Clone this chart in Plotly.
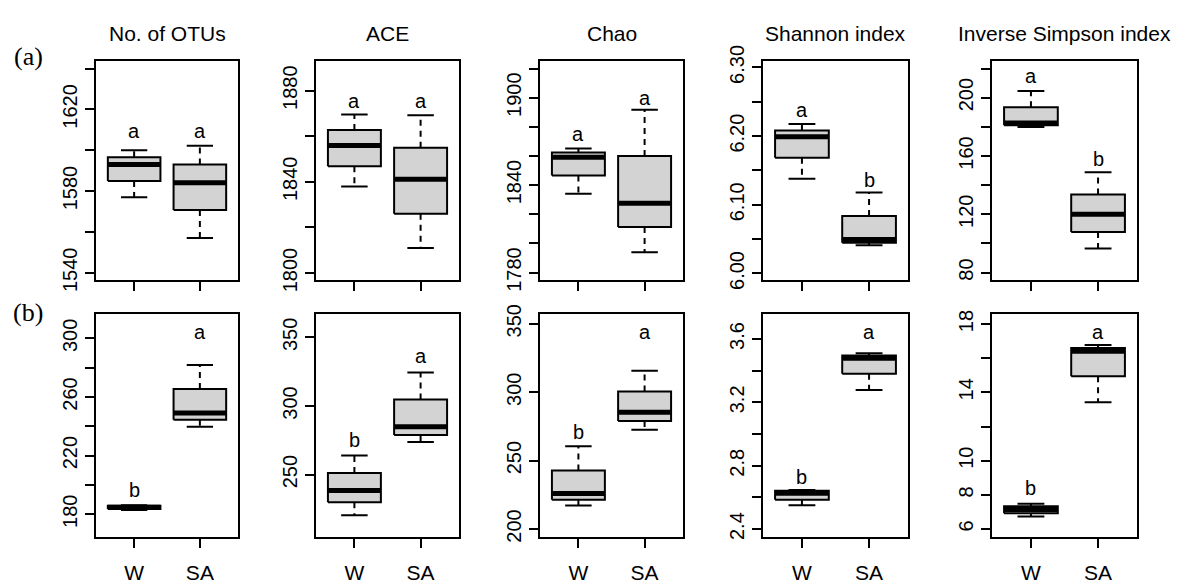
import plotly.graph_objects as go

# ---------------- data ----------------
metrics = ["No. of OTUs", "ACE", "Chao", "Shannon index", "Inverse Simpson index"]
groups = ["W", "SA"]

# row (a): per metric [W, SA]
a_lower = [[1577, 1557], [1838, 1811], [1834, 1794], [6.138, 6.041], [179.8, 96.5]]
a_q1 = [[1585, 1570.7], [1846.8, 1826], [1846.6, 1811.3], [6.1685, 6.0449], [181.1, 107.8]]
a_median = [[1593, 1584.1], [1855.9, 1841.1], [1859.2, 1827.6], [6.199, 6.0496], [182.6, 120.0]]
a_q3 = [[1596.6, 1593], [1862.7, 1855], [1862.3, 1859.9], [6.2083, 6.0838], [193.5, 133.6]]
a_upper = [[1600, 1602.2], [1869.5, 1869.2], [1865.1, 1891.7], [6.2176, 6.118], [204.6, 148.8]]
a_letters = [["a", "a"], ["a", "a"], ["a", "a"], ["a", "b"], ["a", "b"]]
a_letter_y = [[1609.4, 1609.4], [1875.5, 1875.5], [1874.9, 1899.6], [6.2385, 6.1365], [214.6, 158.2]]

# row (b)
b_lower = [[183.0, 239.7], [220.3, 273.8], [217.2, 272.5], [2.551, 3.279], [6.73, 13.42]]
b_q1 = [[183.6, 244.5], [229.8, 278.9], [221.4, 279.0], [2.585, 3.381], [6.93, 14.94]]
b_median = [[184.8, 249.1], [238.4, 284.9], [226.0, 285.3], [2.627, 3.479], [7.14, 16.41]]
b_q3 = [[185.8, 265.4], [251.2, 304.7], [242.7, 300.5], [2.6415, 3.496], [7.33, 16.6]]
b_upper = [[186.2, 281.9], [263.9, 324.4], [260.5, 315.6], [2.6475, 3.51], [7.48, 16.78]]
b_letters = [["b", "a"], ["b", "a"], ["b", "a"], ["b", "a"], ["b", "a"]]
b_letter_y = [[196.3, 304.6], [275.1, 336.5], [271.0, 344.3], [2.728, 3.644], [8.39, 17.55]]

# axis ranges
a_ranges = [[1536.4, 1643.8], [1796.9, 1893.1], [1774.8, 1925.3], [5.9903, 6.3097], [74.8, 225.3]]
b_ranges = [[164.7, 316.3], [204.7, 366.7], [194.4, 356.8], [2.352, 3.755], [5.55, 18.56]]

# y ticks and tick labels
a_tickvals = [
    [1540, 1560, 1580, 1600, 1620, 1640],
    [1800, 1820, 1840, 1860, 1880],
    [1780, 1800, 1820, 1840, 1860, 1880, 1900, 1920],
    [6.00, 6.05, 6.10, 6.15, 6.20, 6.25, 6.30],
    [80, 100, 120, 140, 160, 180, 200, 220],
]
a_ticktext = [
    ["1540", "", "1580", "", "1620", ""],
    ["1800", "", "1840", "", "1880"],
    ["1780", "", "", "1840", "", "", "1900", ""],
    ["6.00", "", "6.10", "", "6.20", "", "6.30"],
    ["80", "", "120", "", "160", "", "200", ""],
]
b_tickvals = [
    [180, 200, 220, 240, 260, 280, 300],
    [250, 300, 350],
    [200, 250, 300, 350],
    [2.4, 2.6, 2.8, 3.0, 3.2, 3.4, 3.6],
    [6, 8, 10, 12, 14, 16, 18],
]
b_ticktext = [
    ["180", "", "220", "", "260", "", "300"],
    ["250", "300", "350"],
    ["200", "250", "300", "350"],
    ["2.4", "", "2.8", "", "3.2", "", "3.6"],
    ["6", "8", "10", "", "14", "", "18"],
]
row_labels = ["(a)", "(b)"]

# ---------------- layout constants ----------------
W, H = 1185, 584
col_px = [(96, 238), (316, 459), (540, 683), (763, 908), (992, 1137)]
row_px = [(48, 278), (314, 547)]
BOXW = 0.4     # half box width
CAPW = 0.2     # half staple width
SANS = "Liberation Sans, Arial, sans-serif"
SERIF = "Liberation Serif, Times New Roman, serif"

fig = go.Figure()
layout = dict(
    width=W, height=H, margin=dict(l=0, r=0, t=0, b=0),
    paper_bgcolor="white", plot_bgcolor="white", showlegend=False,
    annotations=[],
)

rows = [
    (a_lower, a_q1, a_median, a_q3, a_upper, a_letters, a_letter_y, a_ranges, a_tickvals, a_ticktext),
    (b_lower, b_q1, b_median, b_q3, b_upper, b_letters, b_letter_y, b_ranges, b_tickvals, b_ticktext),
]

for r, (lo, q1, md, q3, up, let, lety, rng, tv, tt) in enumerate(rows):
    for c in range(5):
        k = r * 5 + c + 1
        xs = "x" if k == 1 else f"x{k}"
        ys = "y" if k == 1 else f"y{k}"
        xkey = "xaxis" if k == 1 else f"xaxis{k}"
        ykey = "yaxis" if k == 1 else f"yaxis{k}"

        wx, wy, cx, cy, bx, by, mx, my = [], [], [], [], [], [], [], []
        for g in range(2):
            p = g + 1
            # whiskers (dashed)
            wx += [p, p, None, p, p, None]
            wy += [q3[c][g], up[c][g], None, q1[c][g], lo[c][g], None]
            # staples
            cx += [p - CAPW, p + CAPW, None, p - CAPW, p + CAPW, None]
            cy += [up[c][g], up[c][g], None, lo[c][g], lo[c][g], None]
            # box
            bx += [p - BOXW, p + BOXW, p + BOXW, p - BOXW, p - BOXW, None]
            by += [q1[c][g], q1[c][g], q3[c][g], q3[c][g], q1[c][g], None]
            # median
            mx += [p - BOXW, p + BOXW, None]
            my += [md[c][g], md[c][g], None]

        fig.add_trace(go.Scatter(x=wx, y=wy, mode="lines", xaxis=xs, yaxis=ys,
                                 line=dict(color="black", width=2, dash="6px,5px"),
                                 hoverinfo="skip"))
        fig.add_trace(go.Scatter(x=cx, y=cy, mode="lines", xaxis=xs, yaxis=ys,
                                 line=dict(color="black", width=2), hoverinfo="skip"))
        fig.add_trace(go.Scatter(x=bx, y=by, mode="lines", xaxis=xs, yaxis=ys,
                                 fill="toself", fillcolor="#D3D3D3",
                                 line=dict(color="black", width=2), hoverinfo="skip"))
        fig.add_trace(go.Scatter(x=mx, y=my, mode="lines", xaxis=xs, yaxis=ys,
                                 line=dict(color="black", width=5), hoverinfo="skip"))

        x0, x1 = col_px[c]
        y0, y1 = row_px[r]
        layout[xkey] = dict(
            domain=[x0 / W, x1 / W], range=[0.42, 2.58], anchor=ys,
            tickmode="array", tickvals=[1, 2],
            ticktext=groups if r == 1 else ["", ""],
            ticks="outside", ticklen=9, tickwidth=2, tickcolor="black",
            ticklabelstandoff=7,
            showline=True, linecolor="black", linewidth=2, mirror=True,
            showgrid=False, zeroline=False,
            tickfont=dict(family=SANS, size=21, color="black"),
        )
        layout[ykey] = dict(
            domain=[1 - y1 / H, 1 - y0 / H], range=rng[c], anchor=xs,
            tickmode="array", tickvals=tv[c], ticktext=tt[c],
            ticks="outside", ticklen=9, tickwidth=2, tickcolor="black",
            showline=True, linecolor="black", linewidth=2, mirror=True,
            showgrid=False, zeroline=False, tickangle=-90,
            tickfont=dict(family=SANS, size=20, color="black"),
        )
        for g in range(2):
            layout["annotations"].append(dict(
                x=g + 1, y=lety[c][g], xref=xs, yref=ys, text=let[c][g],
                showarrow=False, font=dict(family=SANS, size=20, color="black"),
                xanchor="center", yanchor="middle"))
        if r == 0:
            layout["annotations"].append(dict(
                x=(x0 + x1) / 2 / W, y=1 - 19 / H, xref="paper", yref="paper",
                text=metrics[c], showarrow=False,
                font=dict(family=SANS, size=21, color="black"),
                xanchor="center", yanchor="middle"))

for r, ypx in enumerate([43, 312]):
    layout["annotations"].append(dict(
        x=28 / W, y=1 - ypx / H, xref="paper", yref="paper", text=row_labels[r],
        showarrow=False, font=dict(family=SERIF, size=26, color="black"),
        xanchor="center", yanchor="middle"))

fig.update_layout(**layout)
fig.write_html("out.html")
